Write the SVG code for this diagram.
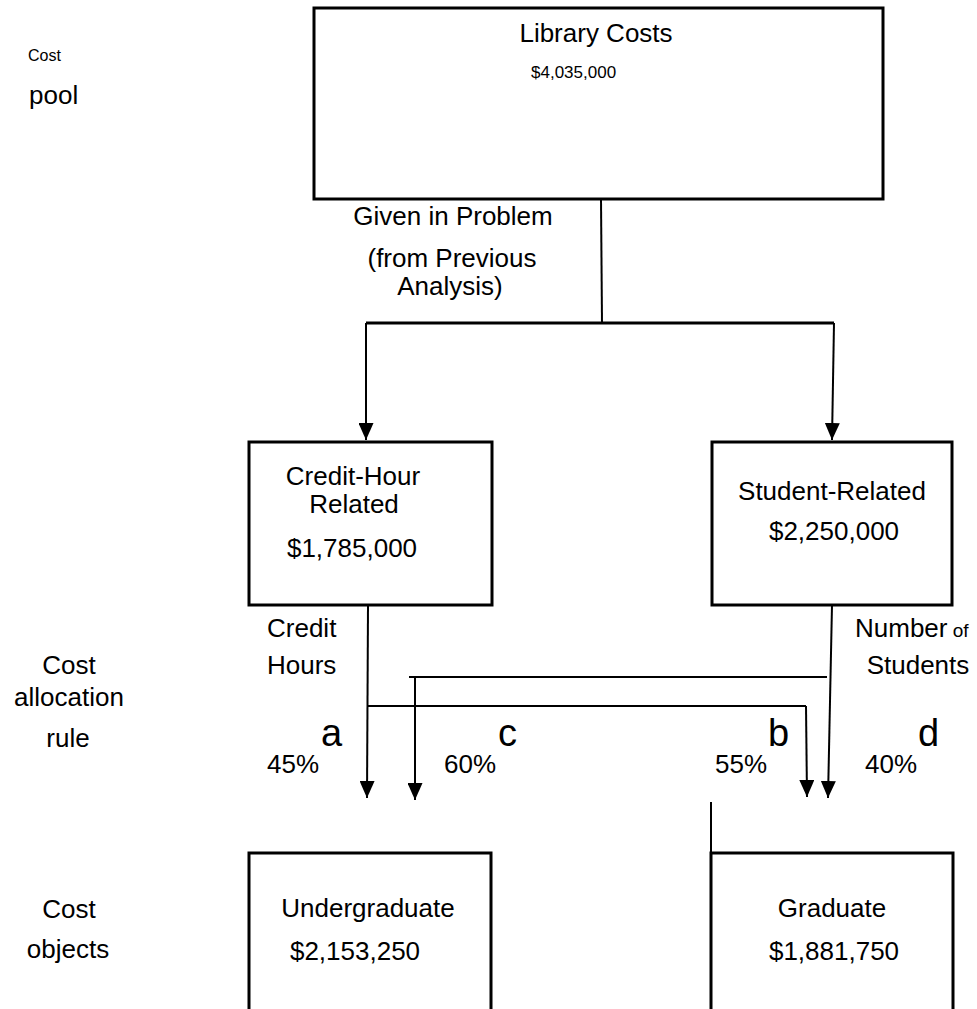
<svg xmlns="http://www.w3.org/2000/svg" width="977" height="1009" viewBox="0 0 977 1009">
<defs>
<style>
text{font-family:"Liberation Sans",Arial,Helvetica,sans-serif;fill:#000}
.t{font-size:26px}
.m{text-anchor:middle}
.big{font-size:38px}
.box{fill:#fff;stroke:#000;stroke-width:3}
.open{fill:none;stroke:#000;stroke-width:3}
.ln{fill:none;stroke:#000;stroke-width:2}
.thk{fill:none;stroke:#000;stroke-width:3}
.ar{fill:none;stroke:#000;stroke-width:2;marker-end:url(#ah)}
</style>
<marker id="ah" markerUnits="userSpaceOnUse" markerWidth="17" markerHeight="15" refX="17" refY="7.5" orient="auto">
<path d="M0,0 L17,7.5 L0,15 z" fill="#000"/>
</marker>
</defs>
<rect width="977" height="1009" fill="#fff"/>

<g id="labels">
<text x="28" y="61" style="font-size:16px">Cost</text>
<text x="29" y="104" class="t">pool</text>
<text x="69" y="674" class="t m">Cost</text>
<text x="69" y="706" class="t m">allocation</text>
<text x="68" y="747" class="t m">rule</text>
<text x="69" y="918" class="t m">Cost</text>
<text x="68" y="958" class="t m">objects</text>
</g>

<g id="connectors">
<path class="ln" d="M601,199 L602,323"/>
<path class="thk" d="M366,323 L834,323"/>
<path class="ar" d="M366,323 L366,440"/>
<path class="ar" d="M834,323 L832,440"/>
<path class="ar" d="M368,605 L367,798"/>
<path class="ln" d="M367,706 L806,706"/>
<path class="ar" d="M806,706 L807,797"/>
<path class="ln" d="M827,677 L409,677"/>
<path class="ar" d="M415,677 L415,800"/>
<path class="ar" d="M832,605 L828,798"/>
<path class="ln" d="M711,802 L711,853"/>
</g>

<g id="edge-labels">
<text x="453" y="225" class="t m">Given in Problem</text>
<text x="452" y="267" class="t m">(from Previous</text>
<text x="450" y="295" class="t m">Analysis)</text>
<text x="267" y="637" class="t">Credit</text>
<text x="267" y="674" class="t">Hours</text>
<text x="855" y="637" class="t">Number<tspan style="font-size:19px"> of</tspan></text>
<text x="918" y="674" class="t m">Students</text>
<text x="321" y="746" class="big">a</text>
<text x="498" y="746" class="big">c</text>
<text x="768" y="746" class="big">b</text>
<text x="918" y="746" class="big">d</text>
<text x="267" y="773" class="t">45%</text>
<text x="444" y="773" class="t">60%</text>
<text x="715" y="773" class="t">55%</text>
<text x="865" y="773" class="t">40%</text>
</g>

<g id="node-library">
<rect class="box" x="314" y="8" width="569" height="191"/>
<text x="596" y="42" class="t m">Library Costs</text>
<text x="531" y="78" style="font-size:17px">$4,035,000</text>
</g>

<g id="node-credit-hour">
<rect class="box" x="249" y="442" width="243" height="163"/>
<text x="353" y="485" class="t m">Credit-Hour</text>
<text x="354" y="513" class="t m">Related</text>
<text x="352" y="557" class="t m">$1,785,000</text>
</g>

<g id="node-student">
<rect class="box" x="712" y="442" width="240" height="163"/>
<text x="832" y="500" class="t m">Student-Related</text>
<text x="834" y="540" class="t m">$2,250,000</text>
</g>

<g id="node-undergraduate">
<path class="open" d="M249,1012 L249,853 L491,853 L491,1012"/>
<text x="368" y="917" class="t m">Undergraduate</text>
<text x="355" y="960" class="t m">$2,153,250</text>
</g>

<g id="node-graduate">
<path class="open" d="M711,1012 L711,853 L953,853 L953,1012"/>
<text x="832" y="917" class="t m">Graduate</text>
<text x="834" y="960" class="t m">$1,881,750</text>
</g>
</svg>
